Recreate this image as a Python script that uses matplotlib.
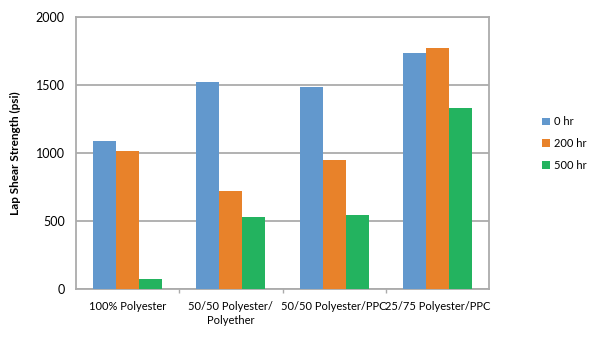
import matplotlib
matplotlib.use("Agg")
import matplotlib.pyplot as plt
import numpy as np

categories = ["100% Polyester", "50/50 Polyester/\nPolyether", "50/50 Polyester/PPC", "25/75 Polyester/PPC"]
series_names = ["0 hr", "200 hr", "500 hr"]
hr0 = [1090, 1522, 1488, 1738]
hr200 = [1018, 723, 946, 1772]
hr500 = [71, 532, 546, 1329]
colors = ["#6298cd", "#e8822a", "#23b35f"]

plt.rcParams['font.family'] = ['Lato', 'DejaVu Sans']

fig = plt.figure(figsize=(6.15, 3.5), dpi=100)
ax = fig.add_axes([76/615, 1 - 289/350, (489-76)/615, (289-17)/350])

x = np.arange(len(categories))
bw = 1 / 4.5
for i, (vals, name, c) in enumerate(zip([hr0, hr200, hr500], series_names, colors)):
    ax.bar(x + (i - 1) * bw, vals, width=bw, color=c, label=name, zorder=3)

ax.set_xlim(-0.5, len(categories) - 0.5)
ax.set_ylim(0, 2000)
ax.set_yticks([0, 500, 1000, 1500, 2000])
ax.yaxis.grid(True, color="#ababab", linewidth=1.3, zorder=0)
ax.set_xticks(x)
ax.set_xticklabels(categories, fontsize=8, color="black", linespacing=1.25)
ax.tick_params(axis='x', length=0, pad=9)
ax.set_xticks(np.arange(0.5, len(categories) - 0.5, 1), minor=True)
ax.tick_params(axis='x', which='minor', length=3, color="#ababab", width=1)
ax.tick_params(axis='y', length=0, labelsize=9, pad=8, colors="black")
for s in ax.spines.values():
    s.set_color("#ababab")
    s.set_linewidth(1.3)
ax.set_ylabel("Lap Shear Strength (psi)", fontsize=8.5, fontweight='bold', labelpad=11)

leg = fig.legend(loc='upper left', bbox_to_anchor=(538/615, 1 - 112/350), frameon=False,
                 fontsize=8, handlelength=0.7, handleheight=0.7, handletextpad=0.3,
                 labelspacing=0.95, borderaxespad=0)

fig.savefig("out.png", dpi=100)
